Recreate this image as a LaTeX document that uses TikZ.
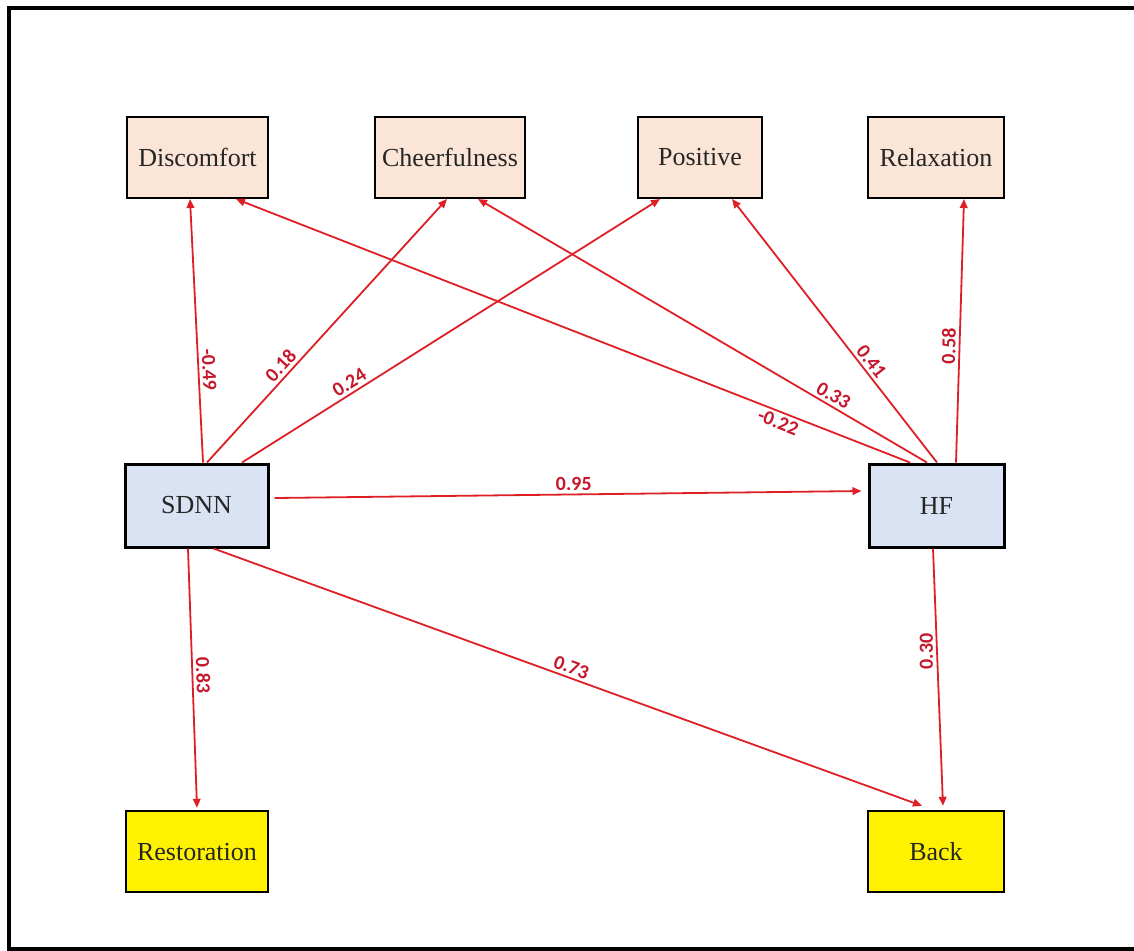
\documentclass[tikz,border=0pt]{standalone}
\usepackage{fontspec}
\setmainfont{Liberation Serif}
\newfontfamily\lblfont{Carlito}
\usetikzlibrary{calc,arrows.meta}
\definecolor{peach}{RGB}{251,229,214}
\definecolor{lblue}{RGB}{218,227,243}
\definecolor{arrowred}{RGB}{222,32,38}
\definecolor{lblred}{RGB}{198,24,44}
\begin{document}
\begin{tikzpicture}[x=0.5pt,y=-0.5pt,
  box/.style={draw=black, rectangle, inner sep=0pt, font=\fontsize{13}{15}\selectfont, text=black!85},
  topbox/.style={box, fill=peach, line width=1pt, minimum height=40.5pt},
  midbox/.style={box, fill=lblue, line width=1.5pt, minimum height=41.5pt},
  botbox/.style={box, fill=yellow, line width=1.2pt, minimum height=40.5pt},
  conn/.style={draw=arrowred, line width=0.9pt, -{Triangle[length=4.5pt,width=3.8pt]}},
  lbl/.style={font=\lblfont\bfseries\fontsize{10}{12}\selectfont, text=lblred, sloped, inner sep=1.5pt},
  lblplain/.style={font=\lblfont\bfseries\fontsize{10}{12}\selectfont, text=lblred, inner sep=1.5pt}
]
\useasboundingbox (0,0) rectangle (1134,950);
\clip (0,0) rectangle (1134,950);
\fill[white] (0,0) rectangle (1134,950);
\draw[line width=2pt, line join=miter] (1200,949) -- (8.5,949) -- (8.5,8) -- (1200,8);

% top row
\node[topbox, minimum width=70.5pt] (disc) at (197.5,157.5) {Discomfort};
\node[topbox, minimum width=75pt] (cheer) at (450,157.5) {Cheerfulness};
\node[topbox, minimum width=62pt] (posi) at (700,157.5) {Positive};
\node[topbox, minimum width=68pt] (relax) at (936,157.5) {Relaxation};
% middle row
\node[midbox, minimum width=71.5pt] (sdnn) at (196.5,505.5) {SDNN};
\node[midbox, minimum width=67.5pt] (hf) at (936.5,505.5) {HF};
% bottom row
\node[botbox, minimum width=71pt] (resto) at (197,851.5) {Restoration};
\node[botbox, minimum width=68pt] (back) at (936,851.5) {Back};

% SDNN connectors
\draw[conn] ($(sdnn.north)+(6.5,0)$) -- ($(disc.south)+(-7.5,0)$)
  node[lbl, above, pos=0.35] {-0.49};
\draw[conn] ($(sdnn.north)+(10.5,0)$) -- ($(cheer.south)+(-3,0)$)
  node[lbl, above, pos=0.34] {0.18};
\draw[conn] ($(sdnn.north)+(45.5,0)$) -- ($(posi.south)+(-40,0)$)
  node[lbl, above, pos=0.27] {0.24};
\draw[conn] ($(sdnn.east)+(5,-7.5)$) -- ($(hf.west)+(-6,-14.5)$)
  node[lbl, above, pos=0.51] {0.95};
\draw[conn] ($(sdnn.south)+(-8.5,0)$) -- ($(resto.north)+(0,-2)$)
  node[lbl, above, pos=0.49] {0.83};
\draw[conn] ($(sdnn.south)+(17,0)$) -- ($(back.north)+(-14,-4)$)
  node[lbl, above, pos=0.50] {0.73};

% HF connectors
\draw[conn] ($(hf.north)+(-26.5,0)$) -- ($(disc.south)+(38.5,0)$)
  node[lbl, below, pos=0.19] {-0.22};
\draw[conn] ($(hf.north)+(-9.5,0)$) -- ($(cheer.south)+(28,0)$)
  node[lbl, above, pos=0.22] {0.33};
\draw[conn] ($(hf.north)+(0.5,0)$) -- ($(posi.south)+(32,0)$)
  node[lbl, above, pos=0.36] {0.41};
\draw[conn] ($(hf.north)+(19.5,0)$) -- ($(relax.south)+(28,0)$)
  node[lbl, above, pos=0.44] {0.58};
\draw[conn] ($(hf.south)+(-3.5,0)$) -- ($(back.north)+(7,-4)$)
  node[lblplain, rotate=90, anchor=south, pos=0.40] {0.30};
\end{tikzpicture}
\end{document}
